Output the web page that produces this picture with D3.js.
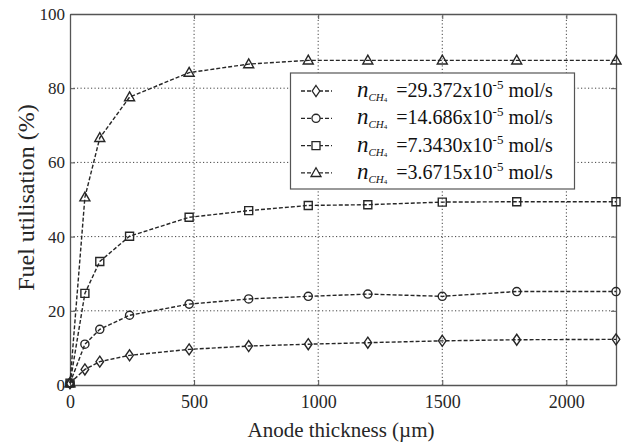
<!DOCTYPE html>
<html>
<head>
<meta charset="utf-8">
<script src="https://cdn.jsdelivr.net/npm/d3@7"></script>
<style>
  html, body { margin: 0; padding: 0; background: #fff; }
  svg { display: block; }
</style>
</head>
<body>
<svg id="chart" width="625" height="444"></svg>
<script>
// Anode thickness (µm) at which utilisation was computed
const thickness = [0, 60, 120, 240, 480, 720, 960, 1200, 1500, 1800, 2200];

// Fuel utilisation (%) for each methane inlet flow
const util29372 = [0.5, 4.2, 6.3, 8.0, 9.6, 10.5, 11.0, 11.4, 11.9, 12.2, 12.3];
const util14686 = [0.5, 11.0, 15.0, 18.8, 21.8, 23.2, 23.9, 24.5, 23.9, 25.2, 25.2];
const util7343  = [0.5, 24.7, 33.3, 40.1, 45.2, 47.0, 48.4, 48.6, 49.3, 49.4, 49.4];
const util36715 = [0.5, 50.6, 66.6, 77.6, 84.2, 86.5, 87.5, 87.5, 87.5, 87.5, 87.5];

// Legend flow values (x10^-5 mol/s)
const flowLabels = ["29.372", "14.686", "7.3430", "3.6715"];
const markerKinds = ["diamond", "circle", "square", "triangle"];

const xTicks = [0, 500, 1000, 1500, 2000];
const yTicks = [0, 20, 40, 60, 80, 100];

const series = [util29372, util14686, util7343, util36715].map((vals, i) => ({
  flow: flowLabels[i],
  marker: markerKinds[i],
  points: thickness.map((t, j) => ({ x: t, y: vals[j] }))
}));

const SERIF = "'Liberation Serif', 'Times New Roman', Times, serif";
const svg = d3.select("#chart").attr("font-family", SERIF);
const m = { left: 70, right: 9, top: 14, bottom: 59 };
const W = 625, H = 444;
const x = d3.scaleLinear().domain([0, 2200]).range([m.left, W - m.right]);
const y = d3.scaleLinear().domain([0, 100]).range([H - m.bottom, m.top]);

const ink = "#262626";

// dotted grid
const grid = svg.append("g");
grid.selectAll("line.gx").data(xTicks.filter(d => d > 0)).join("line")
  .attr("x1", d => x(d)).attr("x2", d => x(d))
  .attr("y1", y(0)).attr("y2", y(100))
  .attr("stroke", "#444").attr("stroke-width", 1).attr("stroke-dasharray", "1.2,2.3");
grid.selectAll("line.gy").data(yTicks.filter(d => d > 0 && d < 100)).join("line")
  .attr("x1", x(0)).attr("x2", x(2200))
  .attr("y1", d => y(d)).attr("y2", d => y(d))
  .attr("stroke", "#444").attr("stroke-width", 1).attr("stroke-dasharray", "1.2,2.3");

// axes with inward ticks
const fmt = d3.format("d");
const xAxis = svg.append("g").attr("transform", `translate(0,${y(0)})`)
  .call(d3.axisBottom(x).tickValues(xTicks).tickFormat(fmt).tickSizeInner(-5).tickSizeOuter(0).tickPadding(10));
const yAxis = svg.append("g").attr("transform", `translate(${x(0)},0)`)
  .call(d3.axisLeft(y).tickValues(yTicks).tickFormat(fmt).tickSizeInner(-5).tickSizeOuter(0).tickPadding(5));
svg.append("g").attr("transform", `translate(0,${y(100)})`)
  .call(d3.axisTop(x).tickValues(xTicks).tickSizeInner(-5).tickSizeOuter(0).tickFormat(""));
svg.append("g").attr("transform", `translate(${x(2200)},0)`)
  .call(d3.axisRight(y).tickValues(yTicks).tickSizeInner(-5).tickSizeOuter(0).tickFormat(""));
svg.selectAll("g").attr("font-family", SERIF);
svg.selectAll(".domain").attr("stroke", "#555").attr("stroke-width", 1.3);
svg.selectAll(".tick line").attr("stroke", "#555");
xAxis.selectAll("text").attr("font-size", 18).attr("fill", ink);
yAxis.selectAll("text").attr("font-size", 17).attr("fill", ink);

// axis titles
svg.append("text").attr("x", x(1100) - 2).attr("y", 437).attr("fill", ink)
  .attr("text-anchor", "middle").attr("font-size", 21).text("Anode thickness (\u00b5m)");
svg.append("text").attr("transform", `translate(33.5,${197.5}) rotate(-90)`).attr("fill", ink)
  .attr("text-anchor", "middle").attr("font-size", 24).text("Fuel utilisation (%)");

// marker shapes
function markerPath(kind) {
  switch (kind) {
    case "diamond": return "M0,-5.5L3.8,0L0,5.5L-3.8,0Z";
    case "circle": return d3.symbol(d3.symbolCircle, 52)();
    case "square": return "M-4,-4H4V4H-4Z";
    case "triangle": return "M0,-5.2L5,3.6H-5Z";
  }
}

const line = d3.line().x(d => x(d.x)).y(d => y(d.y));
const plot = svg.append("g");
series.forEach(s => {
  plot.append("path").datum(s.points).attr("d", line)
    .attr("fill", "none").attr("stroke", ink).attr("stroke-width", 1.4)
    .attr("stroke-dasharray", "4,2");
  plot.selectAll(null).data(s.points).join("path")
    .attr("transform", d => `translate(${x(d.x)},${y(d.y)})`)
    .attr("d", markerPath(s.marker))
    .attr("fill", "none").attr("stroke", ink).attr("stroke-width", 1.4);
});

// legend
const lg = svg.append("g");
lg.append("rect").attr("x", 290.5).attr("y", 73).attr("width", 284).attr("height", 116)
  .attr("fill", "#fff").attr("stroke", "#555").attr("stroke-width", 1.2);
series.forEach((s, i) => {
  const cy = 91 + i * 27.3;
  lg.append("line").attr("x1", 301).attr("x2", 332).attr("y1", cy).attr("y2", cy)
    .attr("stroke", ink).attr("stroke-width", 1.3).attr("stroke-dasharray", "4,2");
  lg.append("path").attr("transform", `translate(316,${cy})`)
    .attr("d", markerPath(s.marker)).attr("fill", "#fff").attr("stroke", ink).attr("stroke-width", 1.3);
  const t = lg.append("text").attr("x", 357).attr("y", cy + 6).attr("font-size", 20).attr("fill", "#111");
  t.append("tspan").attr("font-style", "italic").attr("font-size", 23).text("n");
  t.append("tspan").attr("font-style", "italic").attr("font-size", 11).attr("dy", 4).text("CH");
  t.append("tspan").attr("font-size", 7).attr("dy", 1).text("4");
  t.append("tspan").attr("dy", -5).attr("dx", 4).text(" =" + s.flow + "x10");
  t.append("tspan").attr("font-size", 13).attr("dy", -8).text("-5");
  t.append("tspan").attr("dy", 8).text(" mol/s");
});
</script>
</body>
</html>
